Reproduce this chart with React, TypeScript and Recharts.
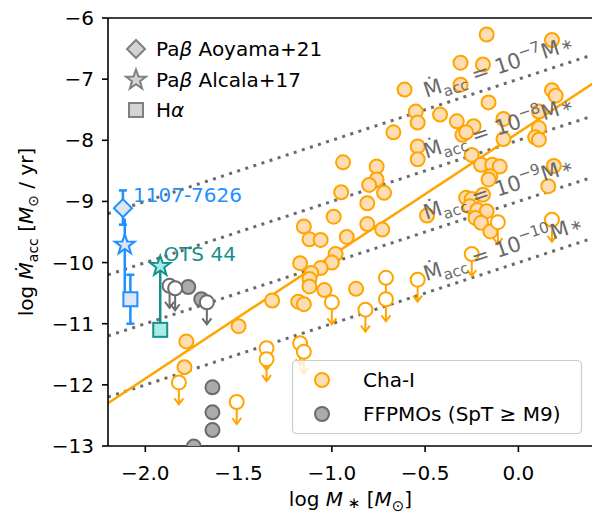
import React from 'react'
import {
  ScatterChart,
  Scatter,
  XAxis,
  YAxis,
  ReferenceLine,
  ReferenceDot,
  ErrorBar,
  Legend,
} from 'recharts'

const FONT = '"DejaVu Sans", sans-serif'
const ORANGE = '#FFA500'
const ORANGE_FILL = '#FFDDB3'
const GRAY_EDGE = '#6b6b6b'
const GRAY_FILL = '#ababab'
const BLUE = '#1E90FF'
const BLUE_FILL = '#DFE4F7'
const TEAL = '#13908C'
const TEAL_FILL = '#A8ECE6'
const DOT_GRAY = '#6a6a6a'

const xTicks = [-2, -1.5, -1, -0.5, 0]
const yTicks = [-13, -12, -11, -10, -9, -8, -7, -6]

// Cha-I detections
const chaIX = [
  -0.17, 0.18, -0.31, -0.19, -0.61, -0.31, 0.18, 0.2, -0.16, -0.55, -0.54, -0.42,
  -0.67, -0.33, -0.24, -0.3, -0.28, -0.08, 0.11, 0.11, 0.09, 0.11, -0.08, -0.54,
  -0.54, -0.94, -0.76, -0.76, -0.8, -0.72, -0.95, -0.81, -0.99, -1.15, -1.12, -1.06,
  -0.92, -0.81, -0.73, -0.98, -1.0, -1.17, -1.06, -1.11, -1.12, -1.12, -1.04, -0.87,
  -1.32, -1.18, -1.15, -1.5, -1.78, -1.79, -0.49, -0.25, -0.2, -0.14, -0.1, -0.15,
  -0.16, 0.19, 0.16, -0.28, -0.25, -0.19, -0.26, -0.22, -0.17, -0.23, -0.2, -0.15,
]
const chaIY = [
  -6.27, -6.36, -6.73, -6.76, -7.17, -7.09, -7.18, -7.27, -7.38, -7.53, -7.71, -7.58,
  -7.87, -7.69, -7.77, -7.91, -7.87, -7.65, -7.53, -7.8, -7.95, -7.99, -7.98, -8.1,
  -8.31, -8.36, -8.43, -8.64, -8.73, -8.86, -8.85, -9.03, -9.25, -9.41, -9.62, -9.63,
  -9.58, -9.37, -9.46, -9.86, -10.0, -10.01, -10.09, -10.17, -10.27, -10.39, -10.45, -10.43,
  -10.62, -10.64, -10.68, -11.04, -11.29, -11.71, -9.23, -8.24, -8.4, -8.4, -8.43, -8.59,
  -8.64, -8.42, -8.75, -8.94, -8.96, -8.89, -9.08, -9.14, -9.16, -9.27, -9.35, -9.49,
]
// Cha-I upper limits
const chaIUlX = [-0.11, 0.18, -0.25, -1.0, -0.82, -0.71, -0.71, -0.54, -1.17, -1.15, -1.82, -1.35, -1.35, -1.51]
const chaIUlY = [-9.34, -9.3, -9.86, -10.65, -10.77, -10.25, -10.6, -10.28, -11.32, -11.46, -11.96, -11.4, -11.58, -12.28]

// FFPMOs
const ffpmoX = [-1.77, -1.7, -1.64, -1.64, -1.64, -1.74]
const ffpmoY = [-10.4, -10.6, -12.04, -12.45, -12.74, -13.01]
const ffpmoUlX = [-1.87, -1.84, -1.67]
const ffpmoUlY = [-10.38, -10.42, -10.65]

// 1107-7626 and OTS 44
const j1107Diamond = [{ x: -2.12, y: -9.11, err: [0.27, 0.29] }]
const j1107Star = [{ x: -2.11, y: -9.71 }]
const j1107Square = [{ x: -2.08, y: -10.6, err: [0.4, 0.4] }]
const j1107LineY = [-9.28, -10.6]
const otsStar = [{ x: -1.92, y: -10.06 }]
const otsSquare = [{ x: -1.92, y: -11.1 }]

// Macc = 10^k M* lines and linear fit
const dottedExp = ['−7', '−8', '−9', '−10']
const dottedX = [-2.2, 0.4]
const dottedStartY = [-9.2, -10.2, -11.2, -12.2]
const dottedEndY = [-6.6, -7.6, -8.6, -9.6]
const dottedLabelX = -0.475
const dottedLabelY = [-7.475, -8.475, -9.475, -10.475]
const fitX = [-2.2, 0.4]
const fitY = [-12.3, -7.07]

const pairs = (xs: number[], ys: number[]) => xs.map((x, i) => ({ x, y: ys[i] }))
const chaI = pairs(chaIX, chaIY)
const chaIUl = pairs(chaIUlX, chaIUlY)
const ffpmo = pairs(ffpmoX, ffpmoY)
const ffpmoUl = pairs(ffpmoUlX, ffpmoUlY)

function starPoints(cx: number, cy: number, R: number) {
  const pts: string[] = []
  for (let i = 0; i < 10; i++) {
    const a = (-90 + i * 36) * (Math.PI / 180)
    const r = i % 2 === 0 ? R : R * 0.4
    pts.push(`${cx + r * Math.cos(a)},${cy + r * Math.sin(a)}`)
  }
  return pts.join(' ')
}

const diamondPoints = (cx: number, cy: number, h: number) =>
  `${cx},${cy - h} ${cx + h},${cy} ${cx},${cy + h} ${cx - h},${cy}`

const filledCircle = (fill: string, stroke: string) => (props: any) => (
  <circle cx={props.cx} cy={props.cy} r={7} fill={fill} stroke={stroke} strokeWidth={2} />
)

const limitCircle = (stroke: string) => (props: any) => {
  const { cx, cy } = props
  return (
    <g>
      <line x1={cx} y1={cy} x2={cx} y2={cy + 22} stroke={stroke} strokeWidth={2} />
      <path
        d={`M${cx - 4.5},${cy + 16} L${cx},${cy + 22} L${cx + 4.5},${cy + 16}`}
        fill="none"
        stroke={stroke}
        strokeWidth={2}
      />
      <circle cx={cx} cy={cy} r={7} fill="#fff" stroke={stroke} strokeWidth={2} />
    </g>
  )
}

const diamondShape = (props: any) => (
  <polygon points={diamondPoints(props.cx, props.cy, 9)} fill={BLUE_FILL} stroke={BLUE} strokeWidth={2} />
)
const starShape = (fill: string, stroke: string) => (props: any) => (
  <polygon points={starPoints(props.cx, props.cy, 10.5)} fill={fill} stroke={stroke} strokeWidth={2} />
)
const squareShape = (fill: string, stroke: string) => (props: any) => (
  <rect x={props.cx - 7} y={props.cy - 7} width={14} height={14} fill={fill} stroke={stroke} strokeWidth={2} />
)

function XTick(props: any) {
  const { x, y, payload } = props
  const v = payload.value as number
  const s = (v < 0 ? '−' : '') + Math.abs(v).toFixed(1)
  return (
    <text x={x} y={y + 26} textAnchor="middle" fontFamily={FONT} fontSize={20} fill="#000">
      {s}
    </text>
  )
}

function YTick(props: any) {
  const { x, y, payload } = props
  const v = payload.value as number
  return (
    <text x={x - 6} y={y + 7} textAnchor="end" fontFamily={FONT} fontSize={20} fill="#000">
      {'−' + Math.abs(v)}
    </text>
  )
}

function XLabel(props: any) {
  const vb = props.viewBox || { x: 108, y: 446, width: 485 }
  return (
    <text x={vb.x + vb.width / 2} y={vb.y + 60} textAnchor="middle" fontFamily={FONT} fontSize={20} fill="#000">
      log <tspan fontStyle="italic">M</tspan>
      <tspan fontSize={15} dy={2}> ∗</tspan>
      <tspan dy={-2}> [</tspan>
      <tspan fontStyle="italic">M</tspan>
      <tspan fontSize={15} dy={5}>⊙</tspan>
      <tspan dy={-5}>]</tspan>
    </text>
  )
}

function YLabel(props: any) {
  const vb = props.viewBox || { x: 8, y: 18, height: 428 }
  const cx = 33
  const cy = vb.y + vb.height / 2
  return (
    <text
      x={cx}
      y={cy}
      transform={`rotate(-90, ${cx}, ${cy})`}
      textAnchor="middle"
      fontFamily={FONT}
      fontSize={20}
      fill="#000"
    >
      log <tspan fontStyle="italic">Ṁ</tspan>
      <tspan fontSize={14} dy={5}>acc</tspan>
      <tspan dy={-5}> [</tspan>
      <tspan fontStyle="italic">M</tspan>
      <tspan fontSize={14} dy={5}>⊙</tspan>
      <tspan dy={-5}> / yr]</tspan>
    </text>
  )
}

const lineLabel = (exp: string) => (props: any) => {
  const { cx, cy } = props
  return (
    <g transform={`translate(${cx}, ${cy}) rotate(-18.1) translate(0, -11)`}>
      <text x={0} y={0} fontFamily={FONT} fontSize={21} fill={DOT_GRAY}>
        Ṁ
        <tspan fontSize={15} dy={5}>acc</tspan>
        <tspan dy={-5}> = 10</tspan>
        <tspan fontSize={15} dy={-9}>{exp}</tspan>
        <tspan dy={9}>M</tspan>
        <tspan fontSize={15} dy={-2} dx={2}>∗</tspan>
      </text>
    </g>
  )
}

const nameLabel = (name: string, color: string) => (props: any) => (
  <text x={props.cx} y={props.cy} fontFamily={FONT} fontSize={20} fill={color}>
    {name}
  </text>
)

function LegendOverlay() {
  return (
    <svg width={592} height={516} style={{ position: 'absolute', left: 0, top: 0 }}>
      <g fontFamily={FONT} fontSize={20} fill="#000">
        <polygon points={diamondPoints(136, 49, 9)} fill="#d3d3d3" stroke="#808080" strokeWidth={2} />
        <text x={156} y={56}>
          Pa<tspan fontStyle="italic">β</tspan> Aoyama+21
        </text>
        <polygon points={starPoints(136, 80, 10.5)} fill="#d3d3d3" stroke="#808080" strokeWidth={2} />
        <text x={156} y={87}>
          Pa<tspan fontStyle="italic">β</tspan> Alcala+17
        </text>
        <rect x={129} y={103} width={14} height={14} fill="#d3d3d3" stroke="#808080" strokeWidth={2} />
        <text x={156} y={117}>
          H<tspan fontStyle="italic">α</tspan>
        </text>
      </g>
      <rect x={292.5} y={360.5} width={289} height={73} rx={4} fill="#fff" fillOpacity={0.8} stroke="#cccccc" strokeWidth={1.2} />
      <g fontFamily={FONT} fontSize={20} fill="#000">
        <circle cx={322} cy={380} r={7} fill={ORANGE_FILL} stroke={ORANGE} strokeWidth={2} />
        <text x={363} y={387}>Cha-I</text>
        <circle cx={322} cy={414} r={7} fill={GRAY_FILL} stroke={GRAY_EDGE} strokeWidth={2} />
        <text x={363} y={421}>FFPMOs (SpT ≥ M9)</text>
      </g>
    </svg>
  )
}

export default function App() {
  return (
    <div
      style={{
        position: 'absolute',
        left: 0,
        top: 0,
        width: 592,
        height: 516,
        overflow: 'hidden',
        background: '#fff',
      }}
    >
      <ScatterChart width={600} height={516} margin={{ top: 18, right: 7, bottom: 20, left: 8 }}>
        <XAxis
          type="number"
          dataKey="x"
          domain={[-2.2, 0.4]}
          ticks={xTicks}
          allowDataOverflow
          height={50}
          tickSize={6}
          tick={<XTick />}
          axisLine={{ stroke: '#000', strokeWidth: 1.6 }}
          tickLine={{ stroke: '#000', strokeWidth: 1.6 }}
          label={<XLabel />}
        />
        <YAxis
          type="number"
          dataKey="y"
          domain={[-13, -6]}
          ticks={yTicks}
          allowDataOverflow
          width={100}
          tickSize={6}
          tick={<YTick />}
          axisLine={{ stroke: '#000', strokeWidth: 1.6 }}
          tickLine={{ stroke: '#000', strokeWidth: 1.6 }}
          label={<YLabel />}
        />
        <ReferenceLine y={-6} stroke="#000" strokeWidth={1.6} />
        <ReferenceLine x={0.4} stroke="#000" strokeWidth={1.6} />

        {dottedExp.map((e, i) => (
          <ReferenceLine
            key={'dl' + e}
            segment={[
              { x: dottedX[0], y: dottedStartY[i] },
              { x: dottedX[1], y: dottedEndY[i] },
            ]}
            stroke={DOT_GRAY}
            strokeWidth={3}
            strokeDasharray="3 5.5"
            ifOverflow="hidden"
          />
        ))}
        <ReferenceLine
          segment={[
            { x: fitX[0], y: fitY[0] },
            { x: fitX[1], y: fitY[1] },
          ]}
          stroke={ORANGE}
          strokeWidth={2.5}
          ifOverflow="hidden"
        />

        <Scatter name="Cha-I" data={chaI} shape={filledCircle(ORANGE_FILL, ORANGE)} isAnimationActive={false} />
        <Scatter name="Cha-I limits" data={chaIUl} shape={limitCircle(ORANGE)} isAnimationActive={false} />
        <Scatter name="FFPMOs" data={ffpmo} shape={filledCircle(GRAY_FILL, GRAY_EDGE)} isAnimationActive={false} />
        <Scatter name="FFPMO limits" data={ffpmoUl} shape={limitCircle(GRAY_EDGE)} isAnimationActive={false} />

        <ReferenceLine
          segment={[
            { x: j1107Star[0].x, y: j1107LineY[0] },
            { x: j1107Star[0].x, y: j1107LineY[1] },
          ]}
          stroke={BLUE}
          strokeWidth={2.5}
        />
        <ReferenceLine
          segment={[
            { x: otsStar[0].x, y: otsStar[0].y },
            { x: otsSquare[0].x, y: otsSquare[0].y },
          ]}
          stroke={TEAL}
          strokeWidth={2.5}
        />
        <Scatter name="1107 diamond" data={j1107Diamond} shape={diamondShape} isAnimationActive={false}>
          <ErrorBar dataKey="err" direction="y" width={4} stroke={BLUE} strokeWidth={2.5} />
        </Scatter>
        <Scatter name="1107 square" data={j1107Square} shape={squareShape(BLUE_FILL, BLUE)} isAnimationActive={false}>
          <ErrorBar dataKey="err" direction="y" width={4} stroke={BLUE} strokeWidth={2.5} />
        </Scatter>
        <Scatter name="1107 star" data={j1107Star} shape={starShape(BLUE_FILL, BLUE)} isAnimationActive={false} />
        <Scatter name="OTS square" data={otsSquare} shape={squareShape(TEAL_FILL, TEAL)} isAnimationActive={false} />
        <Scatter name="OTS star" data={otsStar} shape={starShape(TEAL_FILL, TEAL)} isAnimationActive={false} />

        <ReferenceDot x={-2.066} y={-9.01} r={0} shape={nameLabel('1107-7626', BLUE)} />
        <ReferenceDot x={-1.903} y={-9.97} r={0} shape={nameLabel('OTS 44', TEAL)} />
        {dottedExp.map((e, i) => (
          <ReferenceDot key={'lab' + e} x={dottedLabelX} y={dottedLabelY[i]} r={0} shape={lineLabel(e)} />
        ))}

        <Legend
          layout="horizontal"
          verticalAlign="middle"
          align="center"
          wrapperStyle={{ left: 0, top: 0, width: 592, height: 516, pointerEvents: 'none' }}
          content={() => <LegendOverlay />}
        />
      </ScatterChart>
    </div>
  )
}
